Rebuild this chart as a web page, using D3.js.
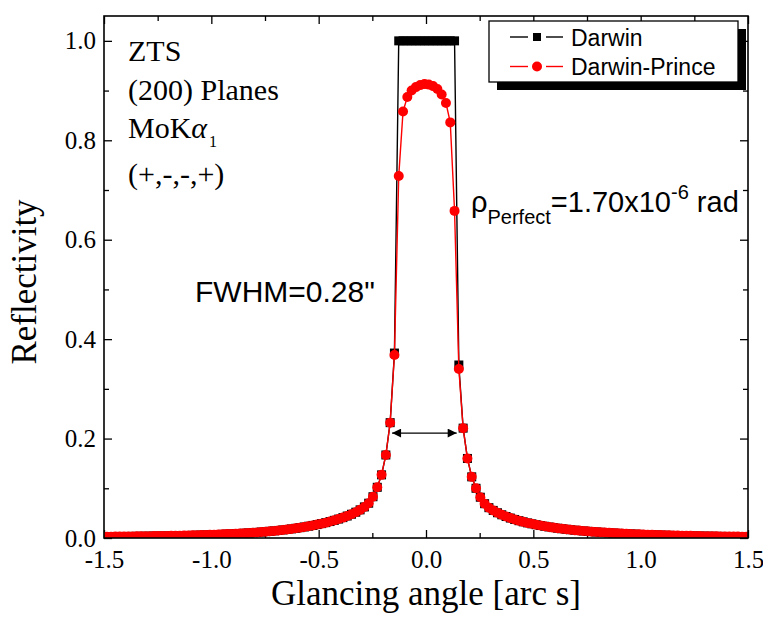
<!DOCTYPE html>
<html>
<head>
<meta charset="utf-8">
<script src="https://cdn.jsdelivr.net/npm/d3@7"></script>
<style>
  body { margin: 0; background: #fff; }
  svg { display: block; }
</style>
</head>
<body>
<svg class="chart" width="763" height="619"></svg>
<script>
// glancing angle in arc s
const angle = [
  -1.487,-1.467,-1.447,-1.427,-1.407,-1.387,-1.367,-1.347,-1.327,-1.307,-1.287,-1.267,-1.247,-1.227,-1.207,-1.187,-1.167,-1.147,-1.127,-1.107,-1.087,-1.067,-1.047,-1.027,-1.007,
  -0.987,-0.967,-0.947,-0.927,-0.907,-0.887,-0.867,-0.847,-0.827,-0.807,-0.787,-0.767,-0.747,-0.727,-0.707,-0.687,-0.667,-0.647,-0.627,-0.607,-0.587,-0.567,-0.547,-0.527,-0.507,
  -0.487,-0.467,-0.447,-0.427,-0.407,-0.387,-0.367,-0.347,-0.327,-0.307,-0.287,-0.267,-0.247,-0.227,-0.207,-0.187,-0.167,-0.147,
  -0.127,-0.107,-0.087,-0.067,-0.047,-0.027,-0.007,0.013,0.033,0.053,0.073,0.093,0.113,0.133,
  0.153,0.173,0.193,0.213,0.233,0.253,0.273,0.293,0.313,0.333,0.353,0.373,0.393,0.413,0.433,0.453,0.473,0.493,
  0.513,0.533,0.553,0.573,0.593,0.613,0.633,0.653,0.673,0.693,0.713,0.733,0.753,0.773,0.793,0.813,0.833,0.853,0.873,0.893,0.913,0.933,0.953,0.973,0.993,
  1.013,1.033,1.053,1.073,1.093,1.113,1.133,1.153,1.173,1.193,1.213,1.233,1.253,1.273,1.293,1.313,1.333,1.353,1.373,1.393,1.413,1.433,1.453,1.473,1.493
];

// Darwin reflectivity
const darwin = [
  .0026,.0027,.0028,.0029,.0030,.0031,.0032,.0033,.0034,.0035,.0036,.0038,.0039,.0040,.0042,.0043,.0045,.0047,.0049,.0051,.0053,.0055,.0058,.0061,.0064,
  .0067,.0070,.0074,.0078,.0082,.0086,.0091,.0096,.0101,.0107,.0113,.0120,.0127,.0135,.0143,.0152,.0162,.0172,.0183,.0195,.0208,.0222,.0237,.0253,.0270,
  .0289,.0309,.0331,.0355,.0381,.0410,.0442,.0478,.0519,.0566,.0625,.0700,.0830,.1020,.1270,.1670,.2320,.372,
  1,1,1,1,1,1,1,1,1,1,1,1,1,1,
  .348,.221,.160,.123,.100,.082,.069,.061,.0555,.0508,.0467,.0432,.0401,.0373,.0348,.0325,.0304,.0285,
  .0267,.0251,.0236,.0222,.0209,.0197,.0186,.0176,.0166,.0157,.0149,.0141,.0134,.0127,.0121,.0115,.0109,.0104,.0099,.0094,.0089,.0085,.0081,.0077,.0073,
  .0070,.0067,.0064,.0061,.0058,.0055,.0053,.0051,.0049,.0047,.0045,.0043,.0041,.0039,.0037,.0036,.0035,.0033,.0032,.0031,.0030,.0029,.0028,.0027,.0026
];

// Darwin-Prince reflectivity
const prince = [
  .0026,.0027,.0028,.0029,.0030,.0031,.0032,.0033,.0034,.0035,.0036,.0038,.0039,.0040,.0042,.0043,.0045,.0047,.0049,.0051,.0053,.0055,.0058,.0061,.0064,
  .0067,.0070,.0074,.0078,.0082,.0086,.0091,.0096,.0101,.0107,.0113,.0120,.0127,.0135,.0143,.0152,.0162,.0172,.0183,.0195,.0208,.0222,.0237,.0253,.0270,
  .0289,.0309,.0331,.0355,.0381,.0410,.0442,.0478,.0519,.0566,.0625,.0700,.0830,.1020,.1270,.1670,.2320,.368,
  .728,.858,.887,.900,.907,.911,.913,.912,.909,.903,.892,.875,.836,.658,
  .340,.221,.160,.123,.100,.082,.069,.061,.0555,.0508,.0467,.0432,.0401,.0373,.0348,.0325,.0304,.0285,
  .0267,.0251,.0236,.0222,.0209,.0197,.0186,.0176,.0166,.0157,.0149,.0141,.0134,.0127,.0121,.0115,.0109,.0104,.0099,.0094,.0089,.0085,.0081,.0077,.0073,
  .0070,.0067,.0064,.0061,.0058,.0055,.0053,.0051,.0049,.0047,.0045,.0043,.0041,.0039,.0037,.0036,.0035,.0033,.0032,.0031,.0030,.0029,.0028,.0027,.0026
];

const seriesNames = ['Darwin', 'Darwin-Prince'];
const xTicks = [-1.5, -1.0, -0.5, 0.0, 0.5, 1.0, 1.5];
const xMinor = [-1.25, -0.75, -0.25, 0.25, 0.75, 1.25];
const yTicks = [0.0, 0.2, 0.4, 0.6, 0.8, 1.0];
const yMinor = [0.1, 0.3, 0.5, 0.7, 0.9];
const fwhm = [-0.158, 0.143, 0.211];   // arrow from, to, at height

const serif = '"Liberation Serif", "Times New Roman", serif';
const sans = '"Liberation Sans", Arial, sans-serif';

const L = 104, R = 748, T = 16, B = 538;
const x = d3.scaleLinear().domain([-1.5, 1.5]).range([L, R]);
const y = d3.scaleLinear().domain([0, 1.05]).range([B, T]);

const svg = d3.select('svg.chart');
const fmt = d => d.toFixed(1);

const defs = svg.append('defs');
defs.append('clipPath').attr('id', 'plotClip')
    .append('rect').attr('x', L).attr('y', T).attr('width', R - L).attr('height', B - T);
defs.append('marker').attr('id', 'arrowHead')
    .attr('viewBox', '0 0 10 10').attr('refX', 10).attr('refY', 5)
    .attr('markerWidth', 13).attr('markerHeight', 9).attr('markerUnits', 'userSpaceOnUse')
    .attr('orient', 'auto-start-reverse')
  .append('path').attr('d', 'M0,0L10,5L0,10Z').attr('fill', '#000');

// axes
function styleAxis(g, labels) {
  g.select('.domain').remove();
  g.selectAll('.tick line').attr('stroke', '#000').attr('stroke-width', 1.3);
  g.selectAll('.tick text').attr('font-family', serif).attr('font-size', 25).attr('fill', '#000');
  if (!labels) g.selectAll('.tick text').remove();
}

svg.append('g').attr('transform', `translate(0,${B})`)
   .call(d3.axisBottom(x).tickValues(xTicks).tickSize(-8).tickPadding(12).tickFormat(fmt))
   .call(g => styleAxis(g, true));
svg.append('g').attr('transform', `translate(0,${B})`)
   .call(d3.axisBottom(x).tickValues(xMinor).tickSize(-5))
   .call(g => styleAxis(g, false));
svg.append('g').attr('transform', `translate(0,${T})`)
   .call(d3.axisTop(x).tickValues(xTicks).tickSize(-8))
   .call(g => styleAxis(g, false));
svg.append('g').attr('transform', `translate(0,${T})`)
   .call(d3.axisTop(x).tickValues(xMinor).tickSize(-5))
   .call(g => styleAxis(g, false));
svg.append('g').attr('transform', `translate(${L},0)`)
   .call(d3.axisLeft(y).tickValues(yTicks).tickSize(-8).tickPadding(8).tickFormat(fmt))
   .call(g => styleAxis(g, true));
svg.append('g').attr('transform', `translate(${L},0)`)
   .call(d3.axisLeft(y).tickValues(yMinor).tickSize(-5))
   .call(g => styleAxis(g, false));
svg.append('g').attr('transform', `translate(${R},0)`)
   .call(d3.axisRight(y).tickValues(yTicks).tickSize(-8))
   .call(g => styleAxis(g, false));
svg.append('g').attr('transform', `translate(${R},0)`)
   .call(d3.axisRight(y).tickValues(yMinor).tickSize(-5))
   .call(g => styleAxis(g, false));

// data
const pts = angle.map((a, i) => ({ a: a, d: darwin[i], p: prince[i] }));
const plot = svg.append('g').attr('clip-path', 'url(#plotClip)');

plot.append('path').datum(pts)
    .attr('fill', 'none').attr('stroke', '#000').attr('stroke-width', 1.4)
    .attr('d', d3.line().x(d => x(d.a)).y(d => y(d.d)));
plot.selectAll('rect.dw').data(pts).enter().append('rect').classed('dw', true)
    .attr('x', d => x(d.a) - 4.5).attr('y', d => y(d.d) - 4.5)
    .attr('width', 9).attr('height', 9).attr('fill', '#000');

plot.append('path').datum(pts)
    .attr('fill', 'none').attr('stroke', '#ff0000').attr('stroke-width', 1.4)
    .attr('d', d3.line().x(d => x(d.a)).y(d => y(d.p)));
plot.selectAll('circle.dp').data(pts).enter().append('circle').classed('dp', true)
    .attr('cx', d => x(d.a)).attr('cy', d => y(d.p)).attr('r', 5).attr('fill', '#ff0000');

// frame
svg.append('rect').attr('x', L).attr('y', T).attr('width', R - L).attr('height', B - T)
   .attr('fill', 'none').attr('stroke', '#000').attr('stroke-width', 1.6);

// FWHM arrow
svg.append('line')
   .attr('x1', x(fwhm[0])).attr('x2', x(fwhm[1]))
   .attr('y1', y(fwhm[2])).attr('y2', y(fwhm[2]))
   .attr('stroke', '#000').attr('stroke-width', 1.3)
   .attr('marker-start', 'url(#arrowHead)').attr('marker-end', 'url(#arrowHead)');

// axis titles
svg.append('text').attr('x', (L + R) / 2).attr('y', 605)
   .attr('text-anchor', 'middle').attr('font-family', serif).attr('font-size', 35)
   .text('Glancing angle [arc s]');
svg.append('text').attr('transform', 'translate(36,282) rotate(-90)')
   .attr('text-anchor', 'middle').attr('font-family', serif).attr('font-size', 35)
   .text('Reflectivity');

// sample info
const info = svg.append('g').attr('font-family', serif).attr('font-size', 30);
info.append('text').attr('x', 128).attr('y', 61).text('ZTS');
info.append('text').attr('x', 128).attr('y', 100).text('(200) Planes');
const mo = info.append('text').attr('x', 128).attr('y', 138);
mo.append('tspan').text('MoK');
mo.append('tspan').attr('font-style', 'italic').text('α');
mo.append('tspan').attr('font-size', 16).attr('dx', 2).attr('dy', 9).text('1');
info.append('text').attr('x', 128).attr('y', 184).text('(+,-,-,+)');

// annotations
const rho = svg.append('text').attr('x', 471).attr('y', 212)
   .attr('font-family', sans).attr('font-size', 29);
rho.append('tspan').text('ρ');
rho.append('tspan').attr('font-size', 20).attr('dy', 12).text('Perfect');
rho.append('tspan').attr('dy', -12).text('=1.70x10');
rho.append('tspan').attr('font-size', 20).attr('dy', -13).text('-6');
rho.append('tspan').attr('dy', 13).text(' rad');

svg.append('text').attr('x', 195).attr('y', 302)
   .attr('font-family', sans).attr('font-size', 30).text('FWHM=0.28"');

// legend
const lg = svg.append('g');
lg.append('rect').attr('x', 497).attr('y', 29).attr('width', 249).attr('height', 61).attr('fill', '#000');
lg.append('rect').attr('x', 489).attr('y', 21).attr('width', 249).attr('height', 61)
  .attr('fill', '#fff').attr('stroke', '#000').attr('stroke-width', 1.3);
const legendColors = ['#000', '#ff0000'];
seriesNames.forEach((name, i) => {
  const ly = 37 + i * 29.5;
  const c = legendColors[i];
  lg.append('line').attr('x1', 510).attr('x2', 528).attr('y1', ly).attr('y2', ly).attr('stroke', c).attr('stroke-width', 1.4);
  lg.append('line').attr('x1', 546).attr('x2', 563).attr('y1', ly).attr('y2', ly).attr('stroke', c).attr('stroke-width', 1.4);
  if (i === 0) {
    lg.append('rect').attr('x', 533).attr('y', ly - 4).attr('width', 8).attr('height', 8).attr('fill', c);
  } else {
    lg.append('circle').attr('cx', 537).attr('cy', ly).attr('r', 5).attr('fill', c);
  }
  lg.append('text').attr('x', 571).attr('y', ly + 8.5)
    .attr('font-family', sans).attr('font-size', 23).text(name);
});
</script>
</body>
</html>
